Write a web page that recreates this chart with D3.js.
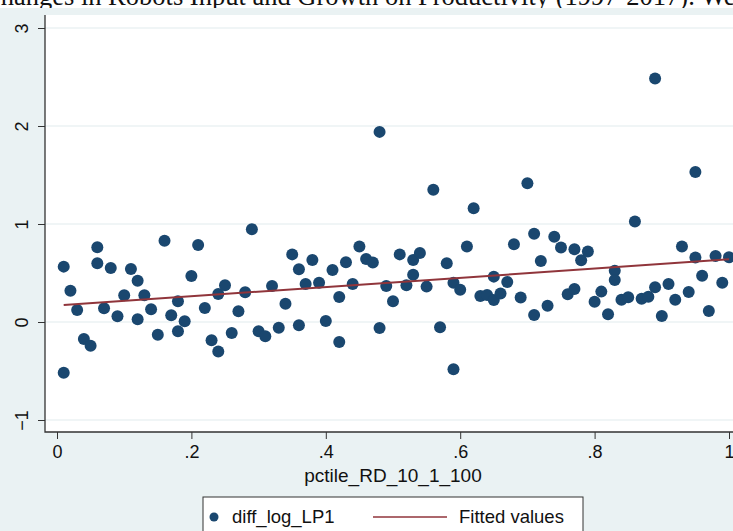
<!DOCTYPE html>
<html>
<head>
<meta charset="utf-8">
<script src="https://d3js.org/d3.v7.min.js"></script>
<style>
  body { margin: 0; padding: 0; background: #fff; overflow: hidden; }
  svg { display: block; }
</style>
</head>
<body>
<svg id="vis"></svg>

<script>
  // percentile of R&D (x) and change in log labour productivity (y)
  var pctile = [0.01, 0.01, 0.02, 0.03, 0.04, 0.05, 0.06, 0.06, 0.07, 0.08,
    0.09, 0.10, 0.11, 0.12, 0.12, 0.13, 0.14, 0.15, 0.16, 0.17,
    0.18, 0.18, 0.19, 0.20, 0.21, 0.22, 0.23, 0.24, 0.24, 0.25,
    0.26, 0.27, 0.28, 0.29, 0.30, 0.31, 0.32, 0.33, 0.34, 0.35,
    0.36, 0.36, 0.37, 0.38, 0.39, 0.40, 0.41, 0.42, 0.42, 0.43,
    0.44, 0.45, 0.46, 0.47, 0.48, 0.48, 0.49, 0.50, 0.51, 0.52,
    0.53, 0.53, 0.54, 0.55, 0.56, 0.57, 0.58, 0.59, 0.59, 0.60,
    0.61, 0.62, 0.63, 0.64, 0.65, 0.65, 0.66, 0.67, 0.68, 0.69,
    0.70, 0.71, 0.71, 0.72, 0.73, 0.74, 0.75, 0.76, 0.77, 0.77,
    0.78, 0.79, 0.80, 0.81, 0.82, 0.83, 0.83, 0.84, 0.85, 0.86,
    0.87, 0.88, 0.89, 0.89, 0.90, 0.91, 0.92, 0.93, 0.94, 0.95,
    0.95, 0.96, 0.97, 0.98, 0.99, 1.00];

  var diffLogLP1 = [0.565, -0.518, 0.32, 0.123, -0.174, -0.242, 0.763, 0.599, 0.140, 0.55,
    0.058, 0.272, 0.54, 0.422, 0.027, 0.272, 0.129, -0.130, 0.83, 0.068,
    0.211, -0.095, 0.007, 0.470, 0.786, 0.143, -0.187, -0.300, 0.286, 0.375,
    -0.112, 0.109, 0.303, 0.947, -0.095, -0.146, 0.368, -0.058, 0.187, 0.69,
    0.538, -0.034, 0.388, 0.633, 0.40, 0.01, 0.531, 0.255, -0.204, 0.61,
    0.388, 0.77, 0.644, 0.606, 1.94, -0.061, 0.368, 0.211, 0.69, 0.375,
    0.483, 0.633, 0.705, 0.361, 1.35, -0.054, 0.60, 0.40, -0.483, 0.33,
    0.77, 1.16, 0.266, 0.276, 0.463, 0.225, 0.29, 0.409, 0.794, 0.25,
    1.417, 0.90, 0.071, 0.623, 0.167, 0.87, 0.76, 0.283, 0.743, 0.337,
    0.63, 0.72, 0.207, 0.31, 0.079, 0.524, 0.429, 0.228, 0.252, 1.025,
    0.238, 0.258, 2.485, 0.354, 0.061, 0.388, 0.228, 0.77, 0.306, 1.53,
    0.657, 0.473, 0.112, 0.674, 0.40, 0.66];

  var xTicks = [0, 0.2, 0.4, 0.6, 0.8, 1];
  var xTickLabels = ['0', '.2', '.4', '.6', '.8', '1'];
  var yTicks = [-1, 0, 1, 2, 3];
  var legendLabels = ['diff_log_LP1', 'Fitted values'];
  var xTitle = 'pctile_RD_10_1_100';
  var pageText = 'Changes in Robots Input and Growth on Productivity (1997-2017). We';

  var W = 733, H = 531;
  var navy = '#1a476f', maroon = '#90353b';

  var svg = d3.select('#vis').attr('width', W).attr('height', H);

  // bit of the document text above the figure
  svg.append('rect').attr('width', W).attr('height', H).attr('fill', '#fff');
  svg.append('text')
    .attr('x', -17).attr('y', 5)
    .attr('font-family', '"Liberation Serif", "Times New Roman", serif')
    .attr('font-size', 26.5)
    .attr('fill', '#111')
    .text(pageText);

  // graph region
  svg.append('rect').attr('x', 0).attr('y', 8).attr('width', W).attr('height', H - 8)
    .attr('fill', '#eaf2f3');

  var plot = {left: 45, top: 15, right: 760, bottom: 432};

  svg.append('rect')
    .attr('x', plot.left).attr('y', plot.top)
    .attr('width', plot.right - plot.left).attr('height', plot.bottom - plot.top)
    .attr('fill', '#fff');

  var x = d3.scaleLinear().domain([0, 1]).range([57, 729]);
  var y = d3.scaleLinear().domain([-1, 3]).range([420, 28]);

  // grid
  svg.append('g').selectAll('line')
    .data(yTicks)
    .enter().append('line')
    .attr('x1', plot.left).attr('x2', plot.right)
    .attr('y1', function(d) { return y(d); })
    .attr('y2', function(d) { return y(d); })
    .attr('stroke', '#e2ecee').attr('stroke-width', 1.2);

  var font = '"Liberation Sans", Arial, Helvetica, sans-serif';

  // y axis, labels turned on their side like Stata does
  var yAxis = svg.append('g')
    .attr('transform', 'translate(' + plot.left + ',0)')
    .call(d3.axisLeft(y).tickValues(yTicks).tickSize(7).tickFormat(d3.format('d')));
  yAxis.select('.domain').remove();
  yAxis.selectAll('line').attr('stroke', '#333');
  yAxis.selectAll('text')
    .attr('font-family', font).attr('font-size', 18).attr('fill', '#111')
    .attr('text-anchor', 'middle')
    .attr('x', null)
    .attr('transform', 'translate(-23,0) rotate(-90)')
    .attr('y', 0).attr('dy', '0.35em');

  // x axis
  var xAxis = svg.append('g')
    .attr('transform', 'translate(0,' + plot.bottom + ')')
    .call(d3.axisBottom(x).tickValues(xTicks).tickSize(7).tickPadding(6)
      .tickFormat(function(d, i) { return xTickLabels[i]; }));
  xAxis.select('.domain').remove();
  xAxis.selectAll('line').attr('stroke', '#333');
  xAxis.selectAll('text')
    .attr('font-family', font).attr('font-size', 18).attr('fill', '#111');

  // plot frame (left and bottom)
  svg.append('path')
    .attr('d', 'M' + plot.left + ',' + plot.top + 'V' + plot.bottom + 'H' + plot.right)
    .attr('fill', 'none').attr('stroke', '#333').attr('stroke-width', 1.3);

  svg.append('text')
    .attr('x', 393).attr('y', 482)
    .attr('text-anchor', 'middle')
    .attr('font-family', font).attr('font-size', 19).attr('fill', '#111')
    .text(xTitle);

  // points
  var pts = pctile.map(function(p, i) { return {x: p, y: diffLogLP1[i]}; });

  svg.append('g').selectAll('circle')
    .data(pts)
    .enter().append('circle')
    .attr('cx', function(d) { return x(d.x); })
    .attr('cy', function(d) { return y(d.y); })
    .attr('r', 6)
    .attr('fill', navy);

  // OLS fit
  var mx = d3.mean(pts, function(d) { return d.x; });
  var my = d3.mean(pts, function(d) { return d.y; });
  var sxy = d3.sum(pts, function(d) { return (d.x - mx) * (d.y - my); });
  var sxx = d3.sum(pts, function(d) { return (d.x - mx) * (d.x - mx); });
  var b = sxy / sxx, a = my - b * mx;
  var xr = d3.extent(pctile);

  svg.append('line')
    .attr('x1', x(xr[0])).attr('y1', y(a + b * xr[0]))
    .attr('x2', x(xr[1])).attr('y2', y(a + b * xr[1]))
    .attr('stroke', maroon).attr('stroke-width', 2);

  // legend
  var lg = svg.append('g');
  lg.append('rect')
    .attr('x', 203).attr('y', 497).attr('width', 380).attr('height', 60)
    .attr('fill', '#fff').attr('stroke', '#333').attr('stroke-width', 1);
  lg.append('circle').attr('cx', 214).attr('cy', 517).attr('r', 4.5).attr('fill', navy);
  lg.append('text').attr('x', 232).attr('y', 523)
    .attr('font-family', font).attr('font-size', 18.5).attr('fill', '#111')
    .text(legendLabels[0]);
  lg.append('line').attr('x1', 373).attr('x2', 447).attr('y1', 517).attr('y2', 517)
    .attr('stroke', maroon).attr('stroke-width', 1.5);
  lg.append('text').attr('x', 459).attr('y', 523)
    .attr('font-family', font).attr('font-size', 18.5).attr('fill', '#111')
    .text(legendLabels[1]);
</script>
</body>
</html>
